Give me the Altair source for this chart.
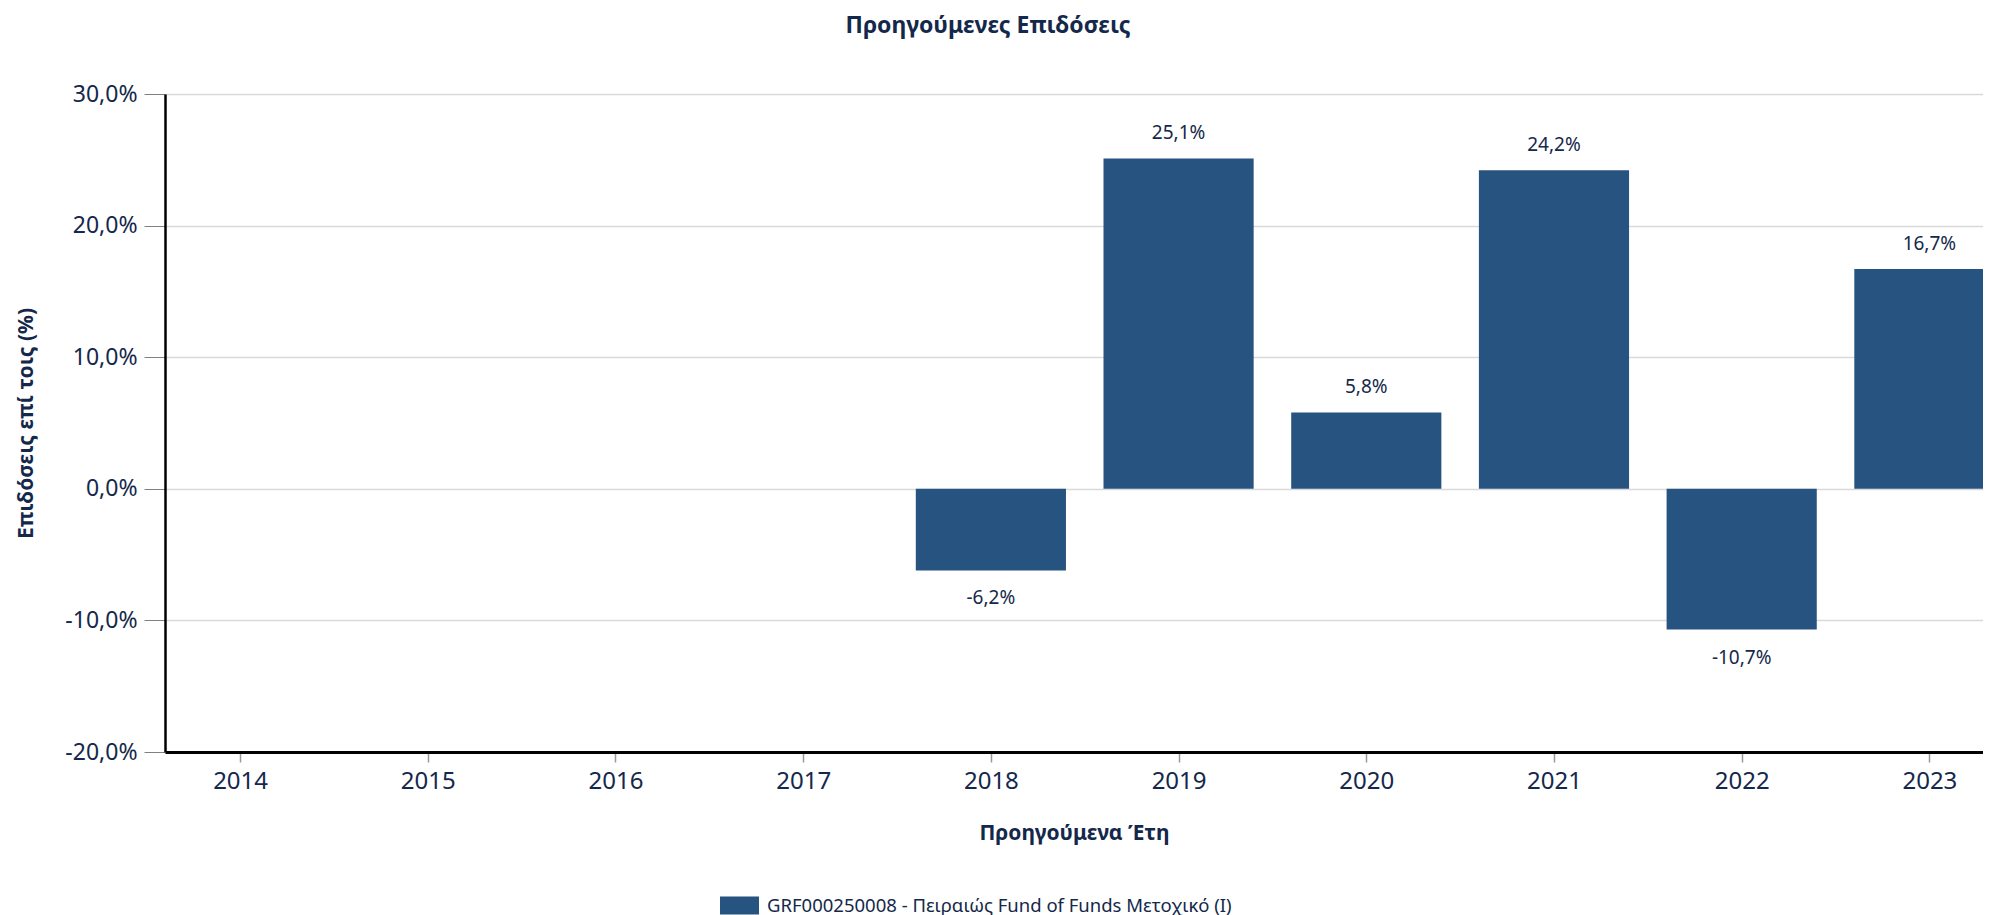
import altair as alt
import pandas as pd

# ---- data ----
years = [2014, 2015, 2016, 2017, 2018, 2019, 2020, 2021, 2022, 2023]
bar_years = [2018, 2019, 2020, 2021, 2022, 2023]
returns = [-6.2, 25.1, 5.8, 24.2, -10.7, 16.7]
series_name = "GRF000250008 - Πειραιώς Fund of Funds Μετοχικό (I)"
y_ticks = [-20, -10, 0, 10, 20, 30]

df = pd.DataFrame({"year": bar_years, "ret": returns})
df["label"] = df["ret"].map(lambda v: f"{v:.1f}".replace(".", ",") + "%")
df["series"] = series_name

FONT = "Noto Sans"
NAVY = "#14284b"
BAR = "#275380"

W = 1818
H = 658
STEP_PX = 187.7             # pixels per category step
BAR_HALF = 0.4              # bar half-width in category steps (80% of a step)
X_MIN = years[0] - BAR_HALF  # plot starts at the left edge of the first band
X_MAX = X_MIN + W / STEP_PX  # last bar is cut at the right edge

x_axis = alt.Axis(
    title="Προηγούμενα Έτη",
    values=years,
    format="d",
    labelAngle=0,
    labelFontSize=24,
    labelColor=NAVY,
    labelFont=FONT,
    labelPadding=7,
    labelFlush=False,
    labelOverlap=False,
    tickSize=10,
    tickColor="#999999",
    tickWidth=1.5,
    domainColor="#000000",
    domainWidth=3,
    grid=False,
    titleFontSize=21,
    titleFontWeight="bold",
    titleColor=NAVY,
    titleFont=FONT,
    titlePadding=29,
)
x_scale = alt.Scale(domain=[X_MIN, X_MAX], nice=False, zero=False)

y_axis = alt.Axis(
    title="Επιδόσεις επί τοις (%)",
    values=y_ticks,
    labelExpr="(datum.value < 0 ? '-' : '') + replace(format(abs(datum.value), '.1f'), '.', ',') + '%'",
    labelFontSize=23,
    labelColor=NAVY,
    labelFont=FONT,
    labelPadding=7,
    tickSize=21,
    tickColor="#808080",
    tickWidth=1,
    domainColor="#000000",
    domainWidth=2.5,
    grid=True,
    gridColor="#d9d9d9",
    gridWidth=1.5,
    titleFontSize=21,
    titleFontWeight="bold",
    titleColor=NAVY,
    titleFont=FONT,
    titlePadding=28,
)
y_scale = alt.Scale(domain=[-20, 30], nice=False, zero=True)

base = alt.Chart(df).transform_calculate(
    x0=f"datum.year - {BAR_HALF}",
    x1=f"min(datum.year + {BAR_HALF}, {X_MAX})",
    zero="0",
)

bars = base.mark_bar().encode(
    x=alt.X("x0:Q", scale=x_scale, axis=x_axis),
    x2="x1:Q",
    y=alt.Y("ret:Q", scale=y_scale, axis=y_axis),
    y2=alt.Y2("zero:Q"),
    color=alt.Color(
        "series:N",
        scale=alt.Scale(range=[BAR]),
        legend=alt.Legend(
            title=None,
            orient="none",
            legendX=555,
            legendY=792,
            symbolType="M-1,-0.46H1V0.46H-1Z",
            symbolSize=1521,
            symbolStrokeWidth=0,
            labelFontSize=18.5,
            labelColor=NAVY,
            labelFont=FONT,
            labelOffset=8,
            labelLimit=0,
        ),
    ),
)

pos_labels = base.transform_filter("datum.ret >= 0").mark_text(
    baseline="alphabetic", dy=-19, fontSize=19, color=NAVY, font=FONT
).encode(x=alt.X("year:Q", scale=x_scale), y=alt.Y("ret:Q", scale=y_scale), text="label:N")

neg_labels = base.transform_filter("datum.ret < 0").mark_text(
    baseline="alphabetic", dy=34, fontSize=19, color=NAVY, font=FONT
).encode(x=alt.X("year:Q", scale=x_scale), y=alt.Y("ret:Q", scale=y_scale), text="label:N")

chart = (
    alt.layer(bars, pos_labels, neg_labels)
    .properties(
        width=W,
        height=H,
        title=alt.TitleParams(
            "Προηγούμενες Επιδόσεις",
            anchor="middle",
            frame="group",
            dx=-86,
            offset=45,
            fontSize=23,
            fontWeight="bold",
            color=NAVY,
            font=FONT,
        ),
        padding={"left": 157, "top": 86, "right": 0, "bottom": 163},
        autosize=alt.AutoSizeParams(type="none"),
    )
    .configure(font=FONT, background="white")
    .configure_view(stroke=None)
)

chart.save("out.html", embed_options={"renderer": "svg", "actions": False})
